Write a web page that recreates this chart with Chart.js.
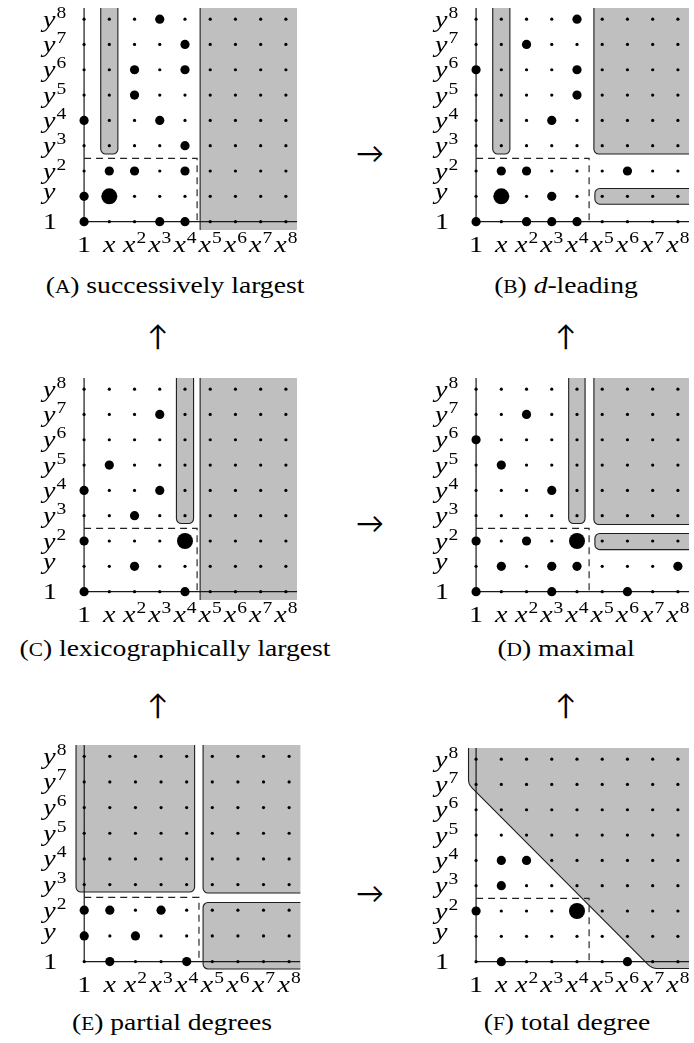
<!DOCTYPE html>
<html>
<head>
<meta charset="utf-8">
<script src="https://cdn.jsdelivr.net/npm/chart.js@4/dist/chart.umd.min.js"></script>
<style>
html,body{margin:0;padding:0;background:#fff;width:694px;height:1043px;overflow:hidden;position:relative;}
canvas.panel{position:absolute;}
.cap{position:absolute;font-family:"Liberation Serif",serif;font-size:24px;line-height:24px;color:#000;white-space:nowrap;transform:translateX(-50%) scaleX(1.15);}
.sc{font-size:18.5px;}
.arr{position:absolute;font-family:"Lato","DejaVu Sans",sans-serif;font-size:28px;line-height:28px;color:#000;transform:translate(-50%,-50%);}
</style>
</head>
<body>
<canvas id="pA" class="panel" width="300" height="265" style="left:5px;top:0px"></canvas>
<canvas id="pB" class="panel" width="300" height="265" style="left:397px;top:0px"></canvas>
<canvas id="pC" class="panel" width="300" height="265" style="left:5px;top:370px"></canvas>
<canvas id="pD" class="panel" width="300" height="265" style="left:397px;top:370px"></canvas>
<canvas id="pE" class="panel" width="300" height="265" style="left:5px;top:740px"></canvas>
<canvas id="pF" class="panel" width="300" height="265" style="left:397px;top:740px"></canvas>

<div class="cap" style="left:175px;top:273px">(<span class="sc">A</span>) successively largest</div>
<div class="cap" style="left:566px;top:273px">(<span class="sc">B</span>) <i>d</i>-leading</div>
<div class="cap" style="left:175px;top:636px">(<span class="sc">C</span>) lexicographically largest</div>
<div class="cap" style="left:566px;top:636px">(<span class="sc">D</span>) maximal</div>
<div class="cap" style="left:172px;top:1010px">(<span class="sc">E</span>) partial degrees</div>
<div class="cap" style="left:567px;top:1010px">(<span class="sc">F</span>) total degree</div>

<div class="arr" style="left:370px;top:152px">→</div>
<div class="arr" style="left:370px;top:522px">→</div>
<div class="arr" style="left:370px;top:892px">→</div>
<div class="arr" style="left:158px;top:335px">↑</div>
<div class="arr" style="left:566px;top:335px">↑</div>
<div class="arr" style="left:158px;top:704px">↑</div>
<div class="arr" style="left:566px;top:704px">↑</div>

<script>
// ---- tick labels and grid ----
const xTickLabels = ['1','x','x^2','x^3','x^4','x^5','x^6','x^7','x^8'];
const yTickLabels = ['1','y','y^2','y^3','y^4','y^5','y^6','y^7','y^8'];
const exponents = [0,1,2,3,4,5,6,7,8];

// ---- (A) successively largest ----
const dotsA = [[0,0],[3,0],[4,0],[0,1],[1,2],[2,2],[4,2],[4,3],[0,4],[3,4],[2,5],[2,6],[4,6],[4,7],[3,8]];
const leadA = [[1,1]];
const shadeA = [
  [[0.66,9],[0.66,2.67],[1.34,2.67],[1.34,9]],
  [[4.6,9],[4.6,-1],[9,-1],[9,9]]
];
// ---- (B) d-leading ----
const dotsB = [[0,0],[2,0],[3,0],[4,0],[3,1],[1,2],[2,2],[6,2],[3,4],[4,5],[0,6],[4,6],[2,7],[4,8]];
const leadB = [[1,1]];
const shadeB = [
  [[0.66,9],[0.66,2.67],[1.34,2.67],[1.34,9]],
  [[4.67,9],[4.67,2.67],[9,2.67],[9,9]],
  [[9,1.31],[4.71,1.31],[4.71,0.69],[9,0.69]]
];
// ---- (C) lexicographically largest ----
const dotsC = [[0,0],[4,0],[2,1],[0,2],[2,3],[0,4],[3,4],[1,5],[3,7]];
const leadC = [[4,2]];
const shadeC = [
  [[3.66,9],[3.66,2.69],[4.34,2.69],[4.34,9]],
  [[4.6,9],[4.6,-1],[9,-1],[9,9]]
];
// ---- (D) maximal ----
const dotsD = [[0,0],[3,0],[6,0],[1,1],[3,1],[4,1],[8,1],[0,2],[2,2],[3,4],[1,5],[0,6],[2,7]];
const leadD = [[4,2]];
const shadeD = [
  [[3.67,9],[3.67,2.69],[4.32,2.69],[4.32,9]],
  [[4.67,9],[4.67,2.65],[9,2.65],[9,9]],
  [[9,2.3],[4.71,2.3],[4.71,1.66],[9,1.66]]
];
// ---- (E) partial degrees ----
const dotsE = [[1,0],[4,0],[0,1],[2,1],[0,2],[1,2],[3,2]];
const leadE = [];
const shadeE = [
  [[-0.32,9],[-0.32,2.71],[4.31,2.71],[4.31,9]],
  [[4.64,9],[4.64,2.67],[9,2.67],[9,9]],
  [[9,2.3],[4.64,2.3],[4.64,-0.29],[9,-0.29]]
];
// ---- (F) total degree ----
const dotsF = [[1,0],[6,0],[0,2],[1,3],[1,4],[2,4]];
const leadF = [[4,2]];
const shadeF = [
  [[-0.3,9],[-0.3,7.0],[6.97,-0.27],[9,-0.27],[9,9]]
];
// dashed box corner (x exponent, y exponent)
const boxCorner = [4.48, 2.5];

// ---- styles ----
const SHADE = '#bfbfbf', EDGE = '#1e1e1e';
const MATH_PX = 23, SUP_PX = 16, SUP_RAISE = 9, HS = 1.22;
const X_MIN = -0.36, X_MAX = 8.44, Y_MIN = -0.33, Y_MAX = 8.44;

function roundedPoly(ctx, pts, r){
  const n = pts.length;
  const sx = (pts[n-1][0]+pts[0][0])/2, sy = (pts[n-1][1]+pts[0][1])/2;
  ctx.moveTo(sx, sy);
  for (let k=0;k<n;k++){
    const p = pts[k], q = pts[(k+1)%n];
    ctx.arcTo(p[0], p[1], q[0], q[1], r);
  }
  ctx.closePath();
}

function shadePlugin(shapes, radius){
  return {
    id:'shade',
    beforeDatasetsDraw(chart){
      const {ctx, chartArea:ca, scales} = chart;
      const xs = scales.x, ys = scales.y;
      ctx.save();
      ctx.beginPath(); ctx.rect(ca.left, ca.top, ca.right-ca.left, ca.bottom-ca.top); ctx.clip();
      shapes.forEach(poly => {
        const pts = poly.map(p => [xs.getPixelForValue(p[0]), ys.getPixelForValue(p[1])]);
        ctx.beginPath(); roundedPoly(ctx, pts, radius);
        ctx.fillStyle = SHADE; ctx.fill();
        ctx.lineWidth = 1.1; ctx.strokeStyle = EDGE; ctx.stroke();
      });
      ctx.restore();
    }
  };
}

function drawMath(ctx, lab, x, y, align, vcenter){
  const parts = lab.split('^'); const b = parts[0], s = parts[1];
  const isNum = /^\d+$/.test(b);
  const baseFont = (isNum ? '' : 'italic ') + MATH_PX + 'px "Liberation Serif"';
  const supFont = SUP_PX + 'px "Liberation Serif"';
  ctx.font = baseFont; const mb = ctx.measureText(b);
  const bw = mb.width*HS; let sw = 0, ms = null;
  if (s){ ctx.font = supFont; ms = ctx.measureText(s); sw = ms.width*HS; }
  const gap = s ? 1 : 0;
  const w = bw + gap + sw;
  const left = align === 'center' ? x - w/2 : x;
  let base = y;
  if (vcenter){
    let asc = mb.actualBoundingBoxAscent;
    if (s) asc = Math.max(asc, SUP_RAISE + ms.actualBoundingBoxAscent);
    const desc = mb.actualBoundingBoxDescent;
    base = y + (asc - desc)/2;
  }
  ctx.textAlign = 'left'; ctx.textBaseline = 'alphabetic'; ctx.fillStyle = '#000';
  ctx.font = baseFont; ctx.save(); ctx.translate(left, base); ctx.scale(HS,1); ctx.fillText(b,0,0); ctx.restore();
  if (s){ ctx.font = supFont; ctx.save(); ctx.translate(left+bw+gap, base - SUP_RAISE); ctx.scale(HS,1); ctx.fillText(s,0,0); ctx.restore(); }
}

const labelPlugin = {
  id:'mathLabels',
  afterDraw(chart){
    const {ctx, scales} = chart;
    const xs = scales.x, ys = scales.y;
    const x0 = xs.getPixelForValue(0), y0 = ys.getPixelForValue(0);
    ctx.save();
    xTickLabels.forEach((lab,k) => drawMath(ctx, lab, xs.getPixelForValue(exponents[k]), y0 + 30, 'center', false));
    yTickLabels.forEach((lab,k) => drawMath(ctx, lab, x0 - 41, ys.getPixelForValue(exponents[k]), 'left', true));
    ctx.restore();
  }
};

function pts(arr){ return arr.map(p => ({x:p[0], y:p[1]})); }

function makePanel(id, dots, lead, shade, radius){
  const grid = [];
  exponents.forEach(i => exponents.forEach(j => grid.push([i,j])));
  new Chart(document.getElementById(id), {
    type:'scatter',
    data:{datasets:[
      {data:pts(lead), pointRadius:8, pointHoverRadius:8, backgroundColor:'#000', borderWidth:0},
      {data:pts(dots), pointRadius:4.6, pointHoverRadius:4.6, backgroundColor:'#000', borderWidth:0},
      {data:pts(grid), pointRadius:1.6, pointHoverRadius:1.6, backgroundColor:'#000', borderWidth:0},
      {data:pts([[0,boxCorner[1]],[boxCorner[0],boxCorner[1]],[boxCorner[0],0]]), showLine:true, borderColor:'#222', borderWidth:1.15, borderDash:[7,5], pointRadius:0, pointHoverRadius:0, fill:false},
      {data:pts([[0,Y_MAX],[0,0],[X_MAX,0]]), showLine:true, borderColor:'#1a1a1a', borderWidth:1.2, pointRadius:0, pointHoverRadius:0, fill:false}
    ]},
    options:{
      responsive:false, animation:false, events:[],
      layout:{padding:{left:70, right:4, top:5, bottom:35}},
      plugins:{legend:{display:false}, tooltip:{enabled:false}},
      scales:{
        x:{type:'linear', min:X_MIN, max:X_MAX, display:false},
        y:{type:'linear', min:Y_MIN, max:Y_MAX, display:false}
      }
    },
    plugins:[shadePlugin(shade, radius), labelPlugin]
  });
}

makePanel('pA', dotsA, leadA, shadeA, 5);
makePanel('pB', dotsB, leadB, shadeB, 5);
makePanel('pC', dotsC, leadC, shadeC, 5);
makePanel('pD', dotsD, leadD, shadeD, 5);
makePanel('pE', dotsE, leadE, shadeE, 5);
makePanel('pF', dotsF, leadF, shadeF, 12);
</script>
</body>
</html>
